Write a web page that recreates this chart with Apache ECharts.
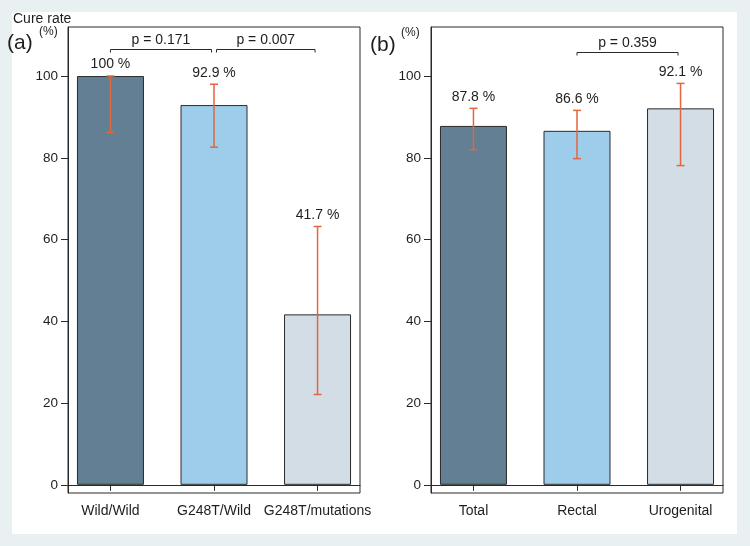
<!DOCTYPE html>
<html>
<head>
<meta charset="utf-8">
<script src="https://cdn.jsdelivr.net/npm/echarts@6/dist/echarts.min.js"></script>
<style>
html,body{margin:0;padding:0;background:#e9f0f2;}
#chart{width:750px;height:546px;}
</style>
</head>
<body>
<div id="chart"></div>
<script>
// ---- data ----
const leftCats = ['Wild/Wild', 'G248T/Wild', 'G248T/mutations'];
const leftRates = [100, 92.9, 41.7];
const leftLow = [86.2, 82.6, 22.1];
const leftHigh = [100, 98.0, 63.2];

const rightCats = ['Total', 'Rectal', 'Urogenital'];
const rightRates = [87.8, 86.6, 92.1];
const rightLow = [82.0, 79.8, 78.1];
const rightHigh = [92.1, 91.6, 98.2];

const yTicks = [0, 20, 40, 60, 80, 100];

const leftBracketFrom = [1, 2];
const leftBracketTo = [2, 3];
const leftPValues = ['0.171', '0.007'];
const rightBracketFrom = [2];
const rightBracketTo = [3];
const rightPValues = ['0.359'];

// ---- styles ----
const barColors = ['#637f93', '#9dcdeb', '#d3dde5'];
const errColor = '#e2663e';
const textColor = '#1e1e1e';
const FONT = '"Liberation Sans", Arial, sans-serif';

const chart = echarts.init(document.getElementById('chart'), null, {renderer: 'canvas'});

function gridOpt(left) {
  return {left: left, top: 27, width: 292, height: 466, show: true,
    borderColor: '#2a2a2a', borderWidth: 1, backgroundColor: 'transparent', outerBoundsMode: 'none'};
}
function xAxisOpt(gi, cats) {
  return {
    type: 'value', gridIndex: gi, min: 0.59, max: 3.41,
    axisLine: {show: true, lineStyle: {color: '#2a2a2a', width: 1}},
    axisTick: {show: true, customValues: [1, 2, 3], length: 6, lineStyle: {color: '#2a2a2a'}},
    axisLabel: {show: true, customValues: [1, 2, 3], margin: 11, fontSize: 14, color: textColor, fontFamily: FONT,
      formatter: function (v) { return cats[Math.round(v) - 1]; }},
    splitLine: {show: false}
  };
}
function yAxisOpt(gi) {
  return {
    type: 'value', gridIndex: gi, min: -2, max: 112,
    axisLine: {show: true, lineStyle: {color: '#2a2a2a', width: 1}},
    axisTick: {show: true, customValues: yTicks, length: 7, lineStyle: {color: '#2a2a2a'}},
    axisLabel: {show: true, customValues: yTicks, margin: 10, fontSize: 13.5, color: textColor, fontFamily: FONT},
    splitLine: {show: false}
  };
}
function barSeries(gi, rates) {
  return {
    type: 'bar', xAxisIndex: gi, yAxisIndex: gi, barWidth: 67, z: 2,
    data: rates.map((r, i) => ({value: [i + 1, r], itemStyle: {color: barColors[i]}})),
    itemStyle: {borderColor: '#2a2a2a', borderWidth: 1},
    emphasis: {disabled: true}, animation: false
  };
}
function errSeries(gi, rates, low, high) {
  return {
    type: 'custom', xAxisIndex: gi, yAxisIndex: gi, z: 5, clip: false, animation: false,
    data: rates.map((r, i) => [i + 1, low[i], high[i], r]),
    encode: {x: 0, y: [1, 2]},
    renderItem: function (params, api) {
      const x = api.value(0), lo = api.value(1), hi = api.value(2);
      const pHi = api.coord([x, hi]), pLo = api.coord([x, lo]);
      const cap = 4;
      const st = {stroke: errColor, lineWidth: 1.5};
      return {type: 'group', children: [
        {type: 'line', shape: {x1: pHi[0], y1: pHi[1], x2: pLo[0], y2: pLo[1]}, style: st},
        {type: 'line', shape: {x1: pHi[0] - cap, y1: pHi[1], x2: pHi[0] + cap, y2: pHi[1]}, style: st},
        {type: 'line', shape: {x1: pLo[0] - cap, y1: pLo[1], x2: pLo[0] + cap, y2: pLo[1]}, style: st},
        {type: 'text', x: pHi[0], y: pHi[1] - 11.5,
          style: {text: rates[params.dataIndex] + ' %', fontSize: 14, fontFamily: FONT, fill: textColor,
            align: 'center', verticalAlign: 'middle'}}
      ]};
    }
  };
}
function bracketSeries(gi, from, to, pv, level) {
  return {
    type: 'custom', xAxisIndex: gi, yAxisIndex: gi, z: 5, clip: false, animation: false,
    data: from.map((f, i) => [f, to[i], level]),
    encode: {x: [0, 1], y: 2},
    renderItem: function (params, api) {
      const a = api.coord([api.value(0), api.value(2)]);
      const b = api.coord([api.value(1), api.value(2)]);
      const inset = 2.5, drop = 3;
      const x1 = a[0] + (params.dataIndex > 0 ? inset : 0);
      const x2 = b[0] - inset;
      const y = Math.round(a[1]) + 0.5;
      return {type: 'group', children: [
        {type: 'polyline', shape: {points: [[x1, y + drop], [x1, y], [x2, y], [x2, y + drop]]},
          style: {stroke: '#2a2a2a', lineWidth: 1, fill: null}},
        {type: 'text', x: (x1 + x2) / 2, y: y - 9,
          style: {text: 'p = ' + pv[params.dataIndex], fontSize: 14, fontFamily: FONT, fill: textColor,
            align: 'center', verticalAlign: 'middle'}}
      ]};
    }
  };
}

const option = {
  backgroundColor: '#e9f0f2',
  animation: false,
  grid: [gridOpt(68), gridOpt(431)],
  xAxis: [xAxisOpt(0, leftCats), xAxisOpt(1, rightCats)],
  yAxis: [yAxisOpt(0), yAxisOpt(1)],
  graphic: [
    {type: 'rect', z: -10, silent: true, shape: {x: 12, y: 12, width: 725, height: 522}, style: {fill: '#ffffff'}},
    {type: 'text', x: 13, y: 19, style: {text: 'Cure rate', fontSize: 14, fontFamily: FONT, fill: textColor, verticalAlign: 'middle'}},
    {type: 'text', x: 7, y: 43, style: {text: '(a)', fontSize: 21, fontFamily: FONT, fill: textColor, verticalAlign: 'middle'}},
    {type: 'text', x: 39, y: 32, style: {text: '(%)', fontSize: 12, fontFamily: FONT, fill: textColor, verticalAlign: 'middle'}},
    {type: 'text', x: 370, y: 45, style: {text: '(b)', fontSize: 21, fontFamily: FONT, fill: textColor, verticalAlign: 'middle'}},
    {type: 'text', x: 401, y: 33, style: {text: '(%)', fontSize: 12, fontFamily: FONT, fill: textColor, verticalAlign: 'middle'}}
  ],
  series: [
    barSeries(0, leftRates),
    barSeries(1, rightRates),
    errSeries(0, leftRates, leftLow, leftHigh),
    errSeries(1, rightRates, rightLow, rightHigh),
    bracketSeries(0, leftBracketFrom, leftBracketTo, leftPValues, 106.5),
    bracketSeries(1, rightBracketFrom, rightBracketTo, rightPValues, 105.9)
  ]
};
chart.setOption(option);
</script>
</body>
</html>
